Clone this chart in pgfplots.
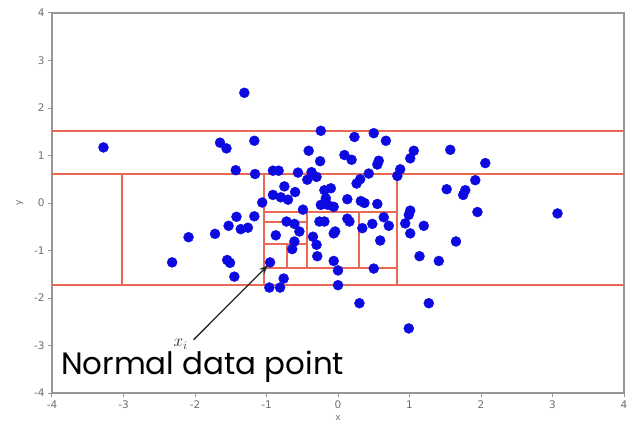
\documentclass[border=0pt]{standalone}
\usepackage{fontspec}
\setmainfont{DejaVu Sans}
\newfontfamily\gothic{Poppins}
\usepackage{pgfplots}
\pgfplotsset{compat=1.18}
\usetikzlibrary{arrows.meta}

\definecolor{ptblue}{RGB}{12,10,225}
\definecolor{cutred}{RGB}{232,105,85}
\definecolor{spine}{RGB}{150,150,150}
\definecolor{ticktext}{RGB}{110,110,110}

\begin{document}
\begin{tikzpicture}[x=1bp,y=1bp]
\begin{axis}[
    name=main,
    scale only axis,
    width=572bp, height=380bp,
    xmin=-4, xmax=4, ymin=-4, ymax=4,
    xtick={-4,-3,...,4}, ytick={-4,-3,...,4},
    tick align=outside, tick pos=left,
    major tick length=4bp,
    every tick/.style={spine, line width=1bp},
    axis line style={spine, line width=1.4bp},
    ticklabel style={font=\fontsize{10.5}{10.5}\selectfont, text=ticktext},
    /pgf/number format/assume math mode=true,
    xlabel={x}, ylabel={y},
    label style={font=\fontsize{9}{9}\selectfont, text=ticktext},
    ylabel style={yshift=4bp},
    unbounded coords=jump,
]
% isolation tree cuts
\addplot[cutred, line width=2bp] coordinates {
    (-4,1.52) (4,1.52) (nan,nan)
    (-4,0.61) (4,0.61) (nan,nan)
    (-4,-1.72) (4,-1.72) (nan,nan)
    (-3.02,-1.72) (-3.02,0.61) (nan,nan)
    (-1.04,-1.72) (-1.04,0.61) (nan,nan)
    (0.83,-1.72) (0.83,0.61) (nan,nan)
    (-1.04,-0.18) (0.83,-0.18) (nan,nan)
    (-1.04,-1.37) (0.83,-1.37) (nan,nan)
    (-0.43,-1.37) (-0.43,-0.18) (nan,nan)
    (0.29,-1.37) (0.29,-0.18) (nan,nan)
    (-1.04,-0.39) (-0.43,-0.39) (nan,nan)
    (-1.04,-0.86) (-0.43,-0.86) (nan,nan)
    (-0.72,-1.37) (-0.72,-0.86)
};
% data points
\addplot[only marks, mark=*, mark size=5bp, mark options={fill=ptblue, draw=ptblue}] coordinates {
    (-3.28,1.17) (-1.31,2.32) (-1.65,1.27) (-1.56,1.15) (-1.17,1.31)
    (-1.43,0.69) (-1.16,0.61) (-1.42,-0.29) (-1.17,-0.28) (-1.53,-0.48)
    (-1.36,-0.55) (-1.26,-0.52) (-1.72,-0.65) (-2.09,-0.72) (-2.32,-1.25)
    (-1.55,-1.20) (-1.51,-1.26) (-1.45,-1.55) (-1.06,0.01)
    (-0.24,1.52) (-0.41,1.10) (-0.25,0.88) (0.23,1.39) (0.50,1.47)
    (0.67,1.31) (0.09,1.01) (0.19,0.91) (0.57,0.89) (0.55,0.81)
    (1.06,1.10) (1.01,0.94) (1.57,1.12) (2.06,0.84) (-0.91,0.68)
    (-0.83,0.68) (-0.56,0.64) (-0.37,0.65) (-0.30,0.55) (-0.43,0.49)
    (0.43,0.62) (0.87,0.71) (0.83,0.57)
    (-0.75,0.35) (-0.91,0.17) (-0.80,0.12) (-0.70,0.07) (-0.60,0.23)
    (-0.19,0.27) (-0.10,0.31) (-0.17,0.10) (-0.24,-0.04) (-0.14,-0.04)
    (-0.06,-0.08) (0.31,0.50) (0.26,0.41) (0.13,0.08) (0.32,0.04)
    (0.37,0.00) (0.55,-0.02) (-0.49,-0.14)
    (1.92,0.48) (1.52,0.29) (1.78,0.27) (1.75,0.17) (1.95,-0.19)
    (3.07,-0.22) (1.01,-0.16) (0.99,-0.25) (0.94,-0.43) (1.01,-0.64)
    (1.20,-0.48) (1.65,-0.81) (1.14,-1.12) (1.41,-1.22) (1.27,-2.11)
    (0.99,-2.64)
    (-0.72,-0.39) (-0.61,-0.44) (-0.54,-0.60) (-0.87,-0.68) (-0.61,-0.81)
    (-0.64,-0.97) (-0.35,-0.71) (-0.26,-0.39) (-0.19,-0.39) (-0.30,-0.88)
    (-0.29,-1.12) (-0.06,-0.64) (-0.04,-0.60) (0.13,-0.33) (0.16,-0.39)
    (0.34,-0.53) (0.48,-0.44) (0.64,-0.30) (0.71,-0.48) (0.59,-0.79)
    (-0.06,-1.22) (0.00,-1.42) (0.50,-1.38) (-0.95,-1.25) (-0.76,-1.59)
    (-0.96,-1.78) (-0.81,-1.78) (0.00,-1.73) (0.30,-2.11)
};
% annotation
\draw[-{Stealth[length=9bp,width=7bp]}, line width=1.3bp, black!85]
    (axis cs:-2.02,-2.88) -- (axis cs:-0.98,-1.31);
\node[font=\fontsize{18}{18}\selectfont, text=black!85] at (axis cs:-2.2,-2.97) {$x_i$};
\node[anchor=base west, inner sep=0pt, font=\gothic\fontsize{31}{31}\selectfont]
    at (axis cs:-3.875,-3.62) {Normal data point};
\end{axis}
\pgfresetboundingbox
\path ([shift={(-52bp,-38bp)}]main.south west) rectangle ([shift={(5bp,13bp)}]main.north east);
\end{tikzpicture}
\end{document}
